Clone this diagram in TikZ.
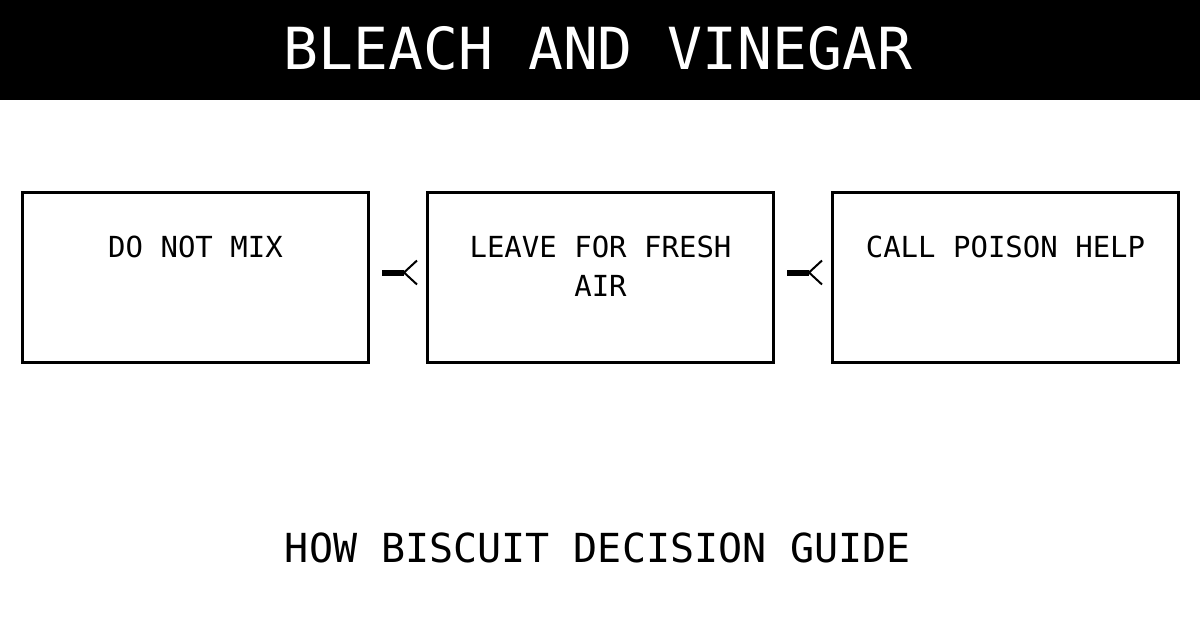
\documentclass[tikz,border=0pt]{standalone}
\usepackage{fontspec}
\setmonofont{DejaVu Sans Mono}
\usetikzlibrary{positioning}
\begin{document}
\begin{tikzpicture}[x=1pt,y=1pt,font=\ttfamily,
  stepbox/.style={draw,line width=3pt,minimum width=346pt,minimum height=170pt,anchor=north west},
  steptext/.style={align=center,font=\ttfamily\fontsize{29}{39}\selectfont,anchor=north},
  link/.style={line width=6pt},
  barb/.style={line width=2pt}]
  \useasboundingbox (0,0) rectangle (1200,-630);
  \fill[black] (0,0) rectangle (1200,-100);
  \node[white,font=\ttfamily\fontsize{58}{58}\selectfont] (title) at (598,-48) {BLEACH AND VINEGAR};

  \node[stepbox] (mix) at (21,-191) {};
  \node[stepbox] (air) at (426,-191) {};
  \node[stepbox] (call) at (831,-191) {};

  \node[steptext] at ([yshift=-41pt]mix.north) {DO NOT MIX};
  \node[steptext] at ([yshift=-41pt]air.north) {LEAVE FOR FRESH\\AIR};
  \node[steptext] at ([yshift=-41pt]call.north) {CALL POISON HELP};

  \foreach \a/\b/\n in {mix/air/one,air/call/two}{
    \coordinate (\n s) at ([xshift=12pt,yshift=5pt]\a.east);
    \coordinate (\n e) at ([xshift=-22pt,yshift=5pt]\b.west);
    \draw[link] (\n s) -- (\n e);
    \draw[barb] ([xshift=13pt,yshift=12pt]\n e) -- (\n e) -- ([xshift=13pt,yshift=-12pt]\n e);
  }

  \node[font=\ttfamily\fontsize{40}{40}\selectfont] (guide) at (598,-548) {HOW BISCUIT DECISION GUIDE};
\end{tikzpicture}
\end{document}
